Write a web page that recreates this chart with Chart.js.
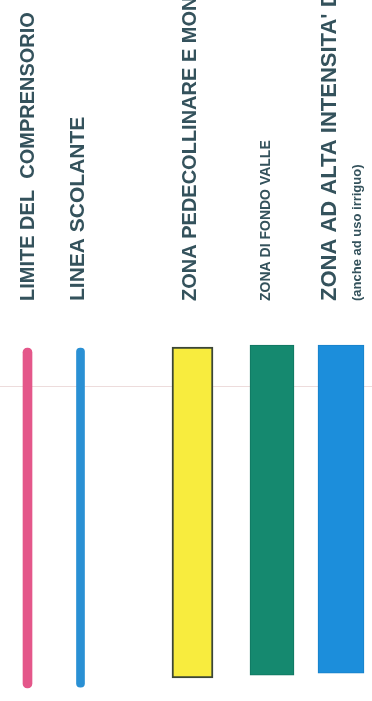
<!DOCTYPE html>
<html>
<head>
<meta charset="utf-8">
<script src="https://cdn.jsdelivr.net/npm/chart.js@4"></script>
<style>
  html, body { margin: 0; padding: 0; background: #ffffff; }
  #wrap { width: 372px; height: 701px; position: relative; }
</style>
</head>
<body>
<div id="wrap"><canvas id="legendChart"></canvas></div>
<script>
// legend entries (text reads bottom to top, as in the scanned sheet)
const labels = [
    'LIMITE DEL  COMPRENSORIO',
    'LINEA SCOLANTE',
    'ZONA PEDECOLLINARE E MONTANA',
    'ZONA DI FONDO VALLE',
    ["ZONA AD ALTA INTENSITA' DI BONIFICA", '(anche ad uso irriguo)']
];
// where each swatch starts and ends along the strip (0 = top, 100 = bottom)
const swatchStart = [11.3, 11.3, 11.1, 10.6, 10.6];
const swatchEnd = [96.7, 96.5, 94.2, 93.5, 93.0];

// layout / style only
const itemX = [27.5, 80.5, 192.5, 272, 341];
const itemWidth = [9, 8, 41, 44, 46];
const fills = ['#e4578a', '#2a90d4', '#f8ec3e', '#15896f', '#1c8edb'];
const edges = ['#e4578a', '#2a90d4', '#3b4636', '#107560', '#1780c8'];
const edgeWidth = [0, 0, 2, 1, 1];
const radius = [5, 4, 0, 0, 0];

// one text line per tick; rotated labels sit about one line-height left of their tick
const lineX = [52, 103, 214, 282.8, 356.4, 372.6];
const lineSizes = [20, 21, 20, 14, 22, 13];
const scanLine = [21.1];

document.addEventListener('DOMContentLoaded', function() {
    const tickText = [];
    labels.forEach(l => Array.isArray(l) ? l.forEach(s => tickText.push(s)) : tickText.push(l));

    const datasets = [];
    for (let i = 0; i < labels.length; i++) {
        datasets.push({
            label: Array.isArray(labels[i]) ? labels[i].join(' ') : labels[i],
            data: [{ x: itemX[i], y: [swatchStart[i], swatchEnd[i]] }],
            backgroundColor: fills[i],
            borderColor: edges[i],
            borderWidth: edgeWidth[i],
            borderRadius: radius[i],
            borderSkipped: false,
            barThickness: itemWidth[i],
            grouped: false
        });
    }

    new Chart(document.getElementById('legendChart'), {
        type: 'bar',
        data: { datasets: datasets },
        options: {
            responsive: true,
            maintainAspectRatio: false,
            animation: false,
            layout: { padding: 0 },
            plugins: { legend: { display: false }, tooltip: { enabled: false } },
            scales: {
                x: {
                    type: 'linear',
                    position: 'top',
                    offset: false,
                    min: 0,
                    max: 372,
                    grid: { display: false, drawTicks: false },
                    border: { display: false },
                    afterBuildTicks: function(scale) {
                        scale.ticks = lineX.map(v => ({ value: v }));
                    },
                    afterFit: function(scale) {
                        scale.height = 303;
                        scale.paddingLeft = 0;
                        scale.paddingRight = 0;
                    },
                    ticks: {
                        autoSkip: false,
                        minRotation: 90,
                        maxRotation: 90,
                        padding: 2,
                        color: '#34525c',
                        font: function(ctx) {
                            return { family: 'Liberation Sans, Arial, sans-serif', size: lineSizes[ctx.index] || 20, weight: 'bold' };
                        },
                        callback: function(value, index) {
                            return tickText[index];
                        }
                    }
                },
                y: {
                    reverse: true,
                    min: 0,
                    max: 100,
                    afterBuildTicks: function(scale) {
                        scale.ticks = scanLine.map(v => ({ value: v }));
                    },
                    afterFit: function(scale) {
                        scale.width = 0;
                    },
                    grid: { color: '#eddcdc', lineWidth: 1, drawTicks: false },
                    border: { display: false },
                    ticks: { display: false }
                }
            }
        }
    });
});
</script>
</body>
</html>
